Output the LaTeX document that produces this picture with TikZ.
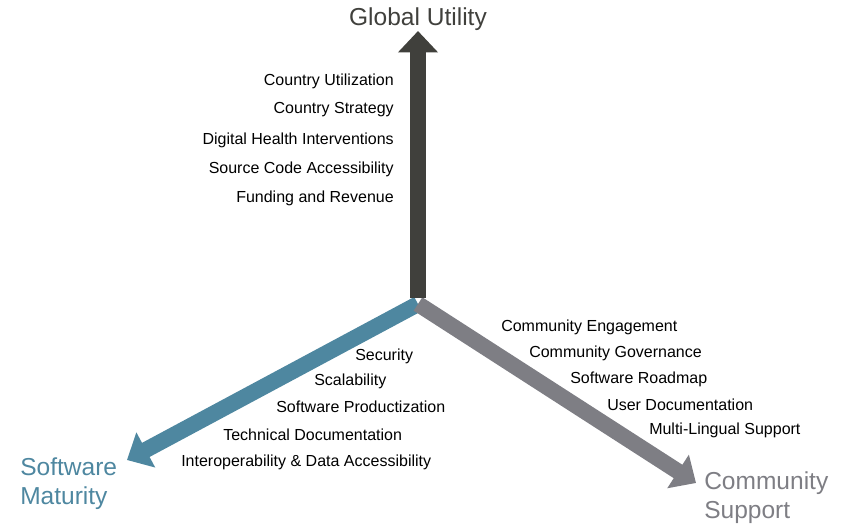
\documentclass[tikz, border=0pt]{standalone}
\usepackage{fontspec}
\setmainfont{Liberation Sans}
\usetikzlibrary{arrows.meta}

\definecolor{utilgray}{HTML}{40403C}
\definecolor{maturblue}{HTML}{4E87A0}
\definecolor{suppgray}{HTML}{7E7E84}

\begin{document}
\begin{tikzpicture}[x = 0.75pt, y = -0.75pt,
	axis/.style = {line width = 12pt, -{Triangle[width = 29pt, length = 16pt]}},
	item/.style = {inner sep = 0pt, font = \fontsize{12}{14}\selectfont},
	title/.style = {inner sep = 0pt, align = left, font = \fontsize{18.4}{21.8}\selectfont}]

\useasboundingbox (0, 0) rectangle (858, 525);

% Centre and arrow tips

\coordinate (origin) at (418, 298);
\coordinate (mid) at (418, 304);
\coordinate (gu-tip) at (418, 31);
\coordinate (sm-tip) at (127, 460);
\coordinate (cs-tip) at (696, 483);

% The three axes

\draw [axis, maturblue] (mid) -- (sm-tip);
\draw [axis, suppgray] (mid) -- (cs-tip);
\draw [axis, utilgray] (origin) -- (gu-tip);

% Axis titles

\node [title, text = utilgray] (gu) at (418, 19) {Global Utility};
\node [title, text = maturblue, anchor = north west] (sm) at (20, 457) {Software\\Maturity};
\node [title, text = suppgray, anchor = north west] (cs) at (704, 471) {Community\\Support};

% Global utility items

\node [item, anchor = east] (gu-1) at (394, 81) {Country Utilization};
\node [item, anchor = east] (gu-2) at (394, 110) {Country Strategy};
\node [item, anchor = east] (gu-3) at (394, 140) {Digital Health Interventions};
\node [item, anchor = east] (gu-4) at (394, 169) {Source Code Accessibility};
\node [item, anchor = east] (gu-5) at (394, 198) {Funding and Revenue};

% Software maturity items

\node [item, anchor = west] (sm-1) at (355, 356) {Security};
\node [item, anchor = west] (sm-2) at (314, 381) {Scalability};
\node [item, anchor = west] (sm-3) at (276, 407) {Software Productization};
\node [item, anchor = west] (sm-4) at (223, 435) {Technical Documentation};
\node [item, anchor = west] (sm-5) at (181, 462) {Interoperability \& Data Accessibility};

% Community support items

\node [item, anchor = west] (cs-1) at (501, 327) {Community Engagement};
\node [item, anchor = west] (cs-2) at (529, 353) {Community Governance};
\node [item, anchor = west] (cs-3) at (570, 379) {Software Roadmap};
\node [item, anchor = west] (cs-4) at (607, 405) {User Documentation};
\node [item, anchor = west] (cs-5) at (649, 430) {Multi-Lingual Support};

\end{tikzpicture}
\end{document}
